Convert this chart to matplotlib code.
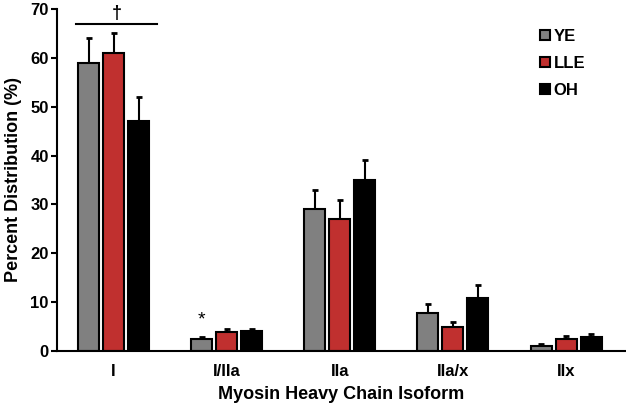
import matplotlib.pyplot as plt
from matplotlib.lines import Line2D
import numpy as np

plt.rcParams['font.family'] = ['Liberation Sans', 'DejaVu Sans']
plt.rcParams['font.weight'] = 'bold'

isoforms = ['I', 'I/IIa', 'IIa', 'IIa/x', 'IIx']
groups = ['YE', 'LLE', 'OH']
colors = ['#808080', '#c0302f', '#000000']

ye = [59, 2.5, 29, 7.7, 1.0]
lle = [61, 4.0, 27, 4.9, 2.5]
oh = [47, 4.1, 35, 10.9, 2.8]
ye_err = [5, 0.4, 4, 2.0, 0.5]
lle_err = [4, 0.6, 4, 1.1, 0.6]
oh_err = [5, 0.4, 4, 2.7, 0.7]

means = [ye, lle, oh]
errs = [ye_err, lle_err, oh_err]

fig = plt.figure(figsize=(6.26, 4.04), dpi=100)
ax = fig.add_axes([0.091, 0.131, 0.909, 0.847])

x = np.arange(len(isoforms))
w = 0.186
step = 0.221
for i in range(3):
    pos = x + (i - 1) * step
    ax.bar(pos, means[i], width=w, color=colors[i], edgecolor='black',
           linewidth=1.5, zorder=2)
    ax.errorbar(pos, means[i], yerr=[np.zeros(5), errs[i]], fmt='none',
                ecolor='black', elinewidth=1.5, capsize=2.5, capthick=2, zorder=1)

# significance marks
ax.plot([-0.33, 0.38], [66.9, 66.9], color='black', lw=1.5)
ax.text(0.03, 67.3, '\u2020', ha='center', va='bottom', fontsize=13)
ax.text(1 - step, 4.6, '*', ha='center', va='bottom', fontsize=14, fontweight='normal')

ax.set_xlim(-0.5, 4.53)
ax.set_ylim(0, 70)
ax.set_yticks(range(0, 71, 10))
ax.set_xticks(x)
ax.set_xticklabels(isoforms)
ax.tick_params(axis='x', length=0, pad=9, labelsize=12)
ax.tick_params(axis='y', length=4, width=1.5, direction='out', labelsize=12, pad=2)
for s in ['top', 'right']:
    ax.spines[s].set_visible(False)
for s in ['left', 'bottom']:
    ax.spines[s].set_linewidth(1.5)

ax.set_xlabel('Myosin Heavy Chain Isoform', fontsize=13, fontweight='bold', labelpad=5)
ax.set_ylabel('Percent Distribution (%)', fontsize=13, fontweight='bold', labelpad=6)

handles = [Line2D([], [], ls='none', marker='s', markersize=6.5, markerfacecolor=c,
                  markeredgecolor='black', markeredgewidth=1.5) for c in colors]
ax.legend(handles, groups, loc='upper right', bbox_to_anchor=(0.955, 0.985), frameon=False,
          fontsize=12, handlelength=0.6, handletextpad=0.25, labelspacing=0.72)

fig.savefig('out.png', dpi=100)
